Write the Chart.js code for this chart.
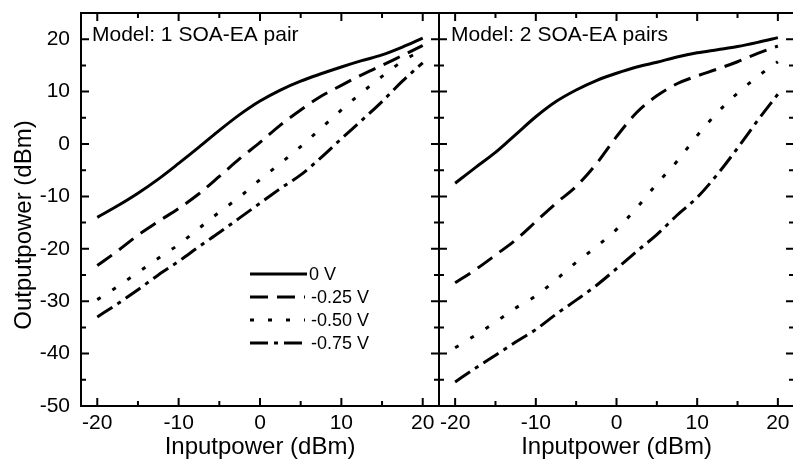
<!DOCTYPE html>
<html>
<head>
<meta charset="utf-8">
<script src="https://cdn.jsdelivr.net/npm/chart.js@4.4.1/dist/chart.umd.min.js"></script>
<style>
	html, body { margin: 0; padding: 0; background: #fff; overflow: hidden; }
	#wrap { position: relative; width: 796px; height: 466px; }
</style>
</head>
<body>
<div id="wrap"><canvas id="soaChart"></canvas></div>
<script>
'use strict';

// input power (dBm), shared by every curve
const inputPower = [-20, -17.5, -15, -12.5, -10, -7.5, -5, -2.5, 0, 2.5, 5, 7.5, 10, 12.5, 15, 17.5, 20];
const biasLabels = ['0 V', '-0.25 V', '-0.50 V', '-0.75 V'];
const yTicks = [-50, -40, -30, -20, -10, 0, 10, 20];
const panelCaptions = ['Model: 1 SOA-EA pair', 'Model: 2 SOA-EA pairs'];

// Model: 1 SOA-EA pair
const one_0V = [-14, -11.8, -9.4, -6.7, -3.7, -0.6, 2.6, 5.6, 8.2, 10.3, 12, 13.4, 14.7, 15.9, 17, 18.5, 20.2];
const one_025V = [-23.2, -20.4, -17.4, -14.8, -12.3, -9.5, -6.2, -2.8, 0.3, 3.6, 6.5, 9.1, 11.2, 13.2, 15, 16.9, 18.8];
const one_050V = [-29.7, -27.2, -24.5, -21.8, -19.2, -16.1, -13, -10.1, -6.8, -3.7, -0.5, 3, 6.5, 9.8, 12.9, 15.8, 18];
const one_075V = [-33, -30.5, -27.8, -25, -22.4, -19.6, -16.9, -14.1, -11.3, -8.5, -5.9, -2.6, 1, 4.5, 8.1, 12, 15.5];

// Model: 2 SOA-EA pairs
const two_0V = [-7.5, -4.5, -1.6, 1.8, 5.2, 8.1, 10.3, 12.1, 13.5, 14.7, 15.6, 16.6, 17.4, 18, 18.6, 19.4, 20.3];
const two_025V = [-26.5, -24, -21.2, -18.3, -14.8, -11.3, -8.1, -3.8, 1.4, 6, 9.2, 11.5, 13, 14.3, 15.7, 17.3, 18.7];
const two_050V = [-38.9, -36.5, -34, -31.3, -29, -25.9, -22.6, -19.6, -16.3, -12.2, -7.6, -3.3, 1.6, 6, 9.7, 12.9, 15.7];
const two_075V = [-45.4, -42.8, -40.3, -37.8, -35.4, -32.5, -29.8, -27, -23.8, -20.5, -17.3, -13.6, -10.2, -5.8, -0.8, 4.5, 9.5];

const dashes = [[], [18, 9], [4, 14], [18, 6, 4, 6]];
const FONT = "'Liberation Sans', Arial, Helvetica, sans-serif";

const buildDatasets = function (series, axisId) {
	return series.map((vals, i) => ({
		label: biasLabels[i],
		xAxisID: axisId,
		data: inputPower.map((x, j) => ({ x: x, y: vals[j] })),
		borderColor: '#000',
		borderWidth: 3,
		borderDash: dashes[i],
		pointRadius: 0,
		fill: false,
		cubicInterpolationMode: 'monotone',
	}));
};

// frame, inward ticks, panel captions, legend and the y title
const framePlugin = {
	id: 'frame',
	afterDraw(chart) {
		const ctx = chart.ctx;
		const a = chart.chartArea;
		const ys = chart.scales.y;
		ctx.save();
		ctx.strokeStyle = '#000';
		ctx.fillStyle = '#000';
		ctx.setLineDash([]);

		['x1', 'x2'].forEach((id, p) => {
			const xs = chart.scales[id];
			const l = xs.left;
			const r = xs.right;
			ctx.lineWidth = 2;
			ctx.strokeRect(l, a.top, r - l, a.bottom - a.top);
			ctx.beginPath();
			for (let v = -20; v <= 20; v += 5) {
				const px = xs.getPixelForValue(v);
				const len = v % 10 === 0 ? 8 : 5;
				ctx.moveTo(px, a.bottom);
				ctx.lineTo(px, a.bottom - len);
				ctx.moveTo(px, a.top);
				ctx.lineTo(px, a.top + len);
			}
			for (let v = -45; v <= 20; v += 5) {
				const py = ys.getPixelForValue(v);
				const len = v % 10 === 0 ? 8 : 5;
				ctx.moveTo(l, py);
				ctx.lineTo(l + len, py);
				ctx.moveTo(r, py);
				ctx.lineTo(r - len, py);
			}
			ctx.stroke();

			ctx.font = '21px ' + FONT;
			ctx.textAlign = 'left';
			ctx.textBaseline = 'alphabetic';
			ctx.fillText(panelCaptions[p], l + 11 + p, a.top + 28);
		});

		// legend in the left panel
		ctx.font = '18px ' + FONT;
		ctx.textBaseline = 'middle';
		chart.data.datasets.slice(0, 4).forEach((ds, i) => {
			const y = 274 + i * 23;
			ctx.beginPath();
			ctx.lineWidth = 3;
			ctx.setLineDash(ds.borderDash);
			ctx.moveTo(250, y);
			ctx.lineTo(i === 0 ? 307 : 305, y);
			ctx.stroke();
			ctx.setLineDash([]);
			ctx.fillText(ds.label, i === 0 ? 309 : 311, y + 1);
		});

		// y axis title
		ctx.translate(24, 225);
		ctx.rotate(-Math.PI / 2);
		ctx.font = '24px ' + FONT;
		ctx.textAlign = 'center';
		ctx.fillText('Outputpower (dBm)', 0, 0);
		ctx.restore();
	},
};

const xAxis = function (weight) {
	return {
		type: 'linear',
		position: 'bottom',
		stack: 'panels',
		stackWeight: weight,
		min: -22,
		max: 22,
		afterFit(scale) {
			scale.height = 60;
			scale.paddingLeft = 0;
			scale.paddingRight = 0;
		},
		grid: { display: false, drawTicks: false },
		border: { display: false },
		ticks: {
			stepSize: 10,
			includeBounds: false,
			padding: 5,
			color: '#000',
			font: { family: FONT, size: 21 },
			maxRotation: 0,
		},
		title: {
			display: true,
			text: 'Inputpower (dBm)',
			color: '#000',
			font: { family: FONT, size: 24 },
			padding: { top: 0, bottom: 4 },
		},
	};
};

const createSoaChart = function () {
	const ctx = document.getElementById('soaChart');
	new Chart(ctx, {
		type: 'line',
		data: {
			datasets: buildDatasets([one_0V, one_025V, one_050V, one_075V], 'x1')
				.concat(buildDatasets([two_0V, two_025V, two_050V, two_075V], 'x2')),
		},
		options: {
			responsive: true,
			maintainAspectRatio: false,
			animation: false,
			layout: { padding: { top: 13, right: 2, left: 0, bottom: 0 } },
			plugins: {
				legend: { display: false },
				tooltip: { enabled: false },
			},
			scales: {
				x1: xAxis(358),
				x2: xAxis(355),
				y: {
					type: 'linear',
					position: 'left',
					min: -50,
					max: 25,
					afterFit(scale) {
						scale.width = 81;
						scale.paddingTop = 0;
						scale.paddingBottom = 0;
					},
					afterBuildTicks(scale) { scale.ticks = yTicks.map(v => ({ value: v })); },
					grid: { display: false, drawTicks: false },
					border: { display: false },
					ticks: {
						padding: 11,
						color: '#000',
						font: { family: FONT, size: 21 },
					},
				},
			},
		},
		plugins: [framePlugin],
	});
};

createSoaChart();
</script>
</body>
</html>
